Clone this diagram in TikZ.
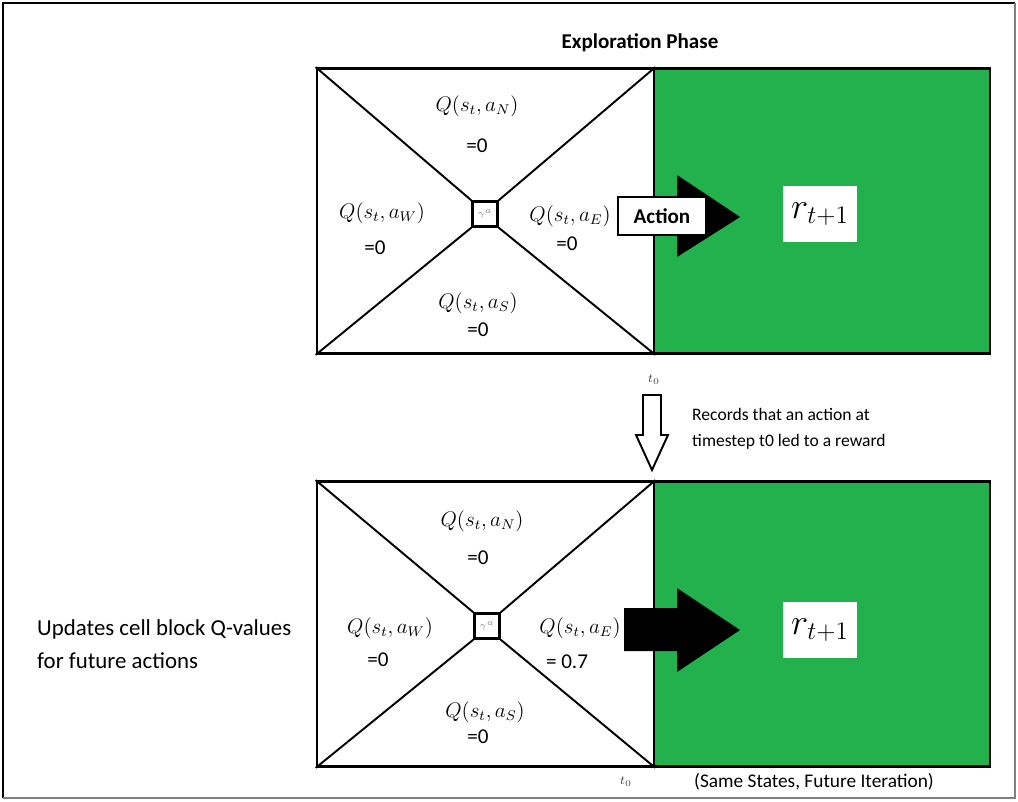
\documentclass[tikz,border=0pt]{standalone}
\usepackage{amsmath}
\usepackage{fontspec}
\setmainfont{Carlito}
\usepackage{xcolor}
\usepackage{tikz}
\usetikzlibrary{arrows.meta,positioning,calc}

\definecolor{cellgreen}{HTML}{22B14C}

\begin{document}
\begin{tikzpicture}[
  cell/.style={draw, line width=1.6pt, fill=white, minimum width=6.74cm, minimum height=5.70cm, inner sep=0pt},
  goal/.style={draw, line width=1.6pt, fill=cellgreen, minimum width=6.72cm, minimum height=5.70cm, inner sep=0pt},
  hub/.style={draw, line width=1.4pt, fill=white, minimum size=0.50cm, inner sep=0pt, text=gray, font=\tiny},
  diag/.style={line width=1.1pt},
  qlabel/.style={font=\fontsize{12}{14}\selectfont},
  qval/.style={font=\fontsize{12}{14}\selectfont},
  reward/.style={fill=white, minimum width=1.48cm, minimum height=1.12cm, font=\fontsize{20}{24}\selectfont},
  note/.style={align=left, anchor=west}
]
\useasboundingbox (0,0) rectangle (20.36,-16.02);
% frame
\draw[line width=1.2pt] (0.06,-15.96) -- (0.06,-0.06) -- (20.30,-0.06);
\draw[line width=0.8pt, gray] (20.30,-0.06) -- (20.30,-15.96) -- (0.06,-15.96);

\node[font=\bfseries\fontsize{12}{14}\selectfont] (title) at (12.80,-0.86) {Exploration Phase};

% top panel
\node[goal] (goalA) at (16.44,-4.22) {};
\node[cell] (cellA) at (9.71,-4.22) {};
\node[hub] (hubA) at (9.70,-4.28) {$\gamma^a$};
\draw[diag] (cellA.north west) -- (hubA.north west);
\draw[diag] (cellA.north east) -- (hubA.north east);
\draw[diag] (cellA.south west) -- (hubA.south west);
\draw[diag] (cellA.south east) -- (hubA.south east);

\node[qlabel] (qNA) at (9.54,-2.12) {$Q(s_t,a_N)$};
\node[qval] (vNA) at (9.54,-2.92) {=0};
\node[qlabel] (qWA) at (7.64,-4.26) {$Q(s_t,a_W)$};
\node[qval] (vWA) at (7.50,-4.96) {=0};
\node[qlabel] (qEA) at (11.40,-4.32) {$Q(s_t,a_E)$};
\node[qval] (vEA) at (11.34,-4.88) {=0};
\node[qlabel] (qSA) at (9.56,-6.06) {$Q(s_t,a_S)$};
\node[qval] (vSA) at (9.56,-6.60) {=0};

\fill (12.40,-3.98) -- (13.54,-3.98) -- (13.54,-3.50) -- (14.80,-4.34)
  -- (13.54,-5.14) -- (13.54,-4.70) -- (12.40,-4.70) -- cycle;
\node[draw, line width=1.2pt, fill=white, minimum width=1.76cm, minimum height=0.76cm,
  font=\bfseries\fontsize{12}{14}\selectfont] (act) at (13.24,-4.32) {Action};
\node[reward] (rA) at (16.40,-4.28) {$r_{t+1}$};

\node[font=\scriptsize, text=darkgray] (tA) at (13.08,-7.60) {$t_0$};

% hollow arrow between panels
\draw[line width=1.1pt, fill=white] (12.86,-7.90) -- (13.22,-7.90) -- (13.22,-8.70)
  -- (13.36,-8.70) -- (13.04,-9.40) -- (12.72,-8.70) -- (12.86,-8.70) -- cycle;
\node[note, font=\fontsize{10}{14.8}\selectfont] (rec) at (13.72,-8.58)
  {Records that an action at\\timestep t0 led to a reward};

% bottom panel
\node[goal] (goalB) at (16.44,-12.48) {};
\node[cell] (cellB) at (9.71,-12.48) {};
\node[hub] (hubB) at (9.74,-12.52) {$\gamma^a$};
\draw[diag] (cellB.north west) -- (hubB.north west);
\draw[diag] (cellB.north east) -- (hubB.north east);
\draw[diag] (cellB.south west) -- (hubB.south west);
\draw[diag] (cellB.south east) -- (hubB.south east);

\node[qlabel] (qNB) at (9.64,-10.42) {$Q(s_t,a_N)$};
\node[qval] (vNB) at (9.56,-11.16) {=0};
\node[qlabel] (qWB) at (7.80,-12.56) {$Q(s_t,a_W)$};
\node[qval] (vWB) at (7.56,-13.20) {=0};
\node[qlabel] (qEB) at (11.60,-12.56) {$Q(s_t,a_E)$};
\node[qval] (vEB) at (11.34,-13.24) {= 0.7};
\node[qlabel] (qSB) at (9.70,-14.24) {$Q(s_t,a_S)$};
\node[qval] (vSB) at (9.56,-14.74) {=0};

\fill (12.48,-12.16) -- (13.54,-12.16) -- (13.54,-11.76) -- (14.80,-12.60)
  -- (13.54,-13.44) -- (13.54,-13.02) -- (12.48,-13.02) -- cycle;
\node[reward] (rB) at (16.40,-12.60) {$r_{t+1}$};

\node[font=\scriptsize, text=darkgray] (tB) at (12.52,-15.64) {$t_0$};
\node[font=\fontsize{11}{13}\selectfont] (iter) at (16.28,-15.64) {(Same States, Future Iteration)};

\node[note, font=\fontsize{13}{18.8}\selectfont] (upd) at (0.62,-12.89)
  {Updates cell block Q-values\\for future actions};
\end{tikzpicture}
\end{document}
